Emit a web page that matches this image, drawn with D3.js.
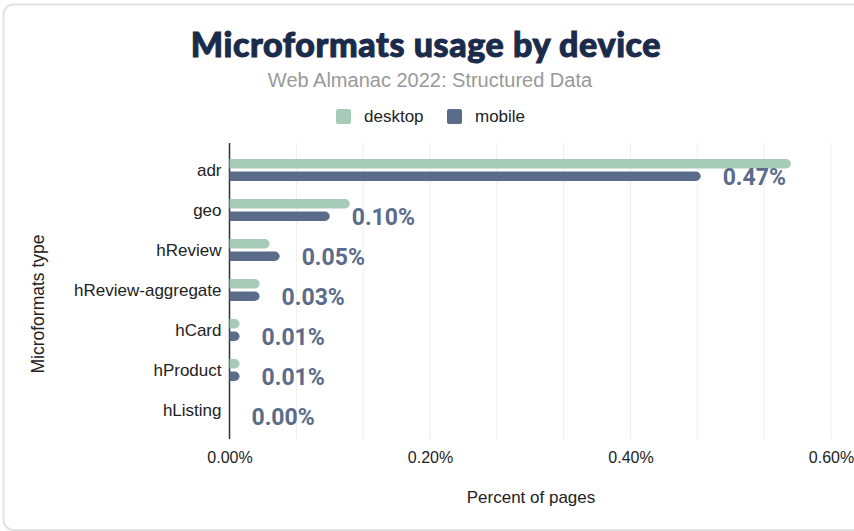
<!DOCTYPE html>
<html><head><meta charset="utf-8">
<script src="https://cdn.jsdelivr.net/npm/d3@7"></script>
<style>
html,body{margin:0;padding:0;background:#fff;}
svg{display:block;}
</style></head>
<body>
<svg id="chart" width="854" height="531"></svg>
<script>
const categories = ["adr","geo","hReview","hReview-aggregate","hCard","hProduct","hListing"];
const desktop = [0.56,0.12,0.04,0.03,0.01,0.01,0.00];
const mobile  = [0.47,0.10,0.05,0.03,0.01,0.01,0.00];
const seriesNames = ["desktop","mobile"];
const seriesColors = ["#a6cbb9","#5b6c8a"];
const xTicks = [0,0.2,0.4,0.6];

const svg = d3.select("#chart");
const W = 854, H = 531;
const FONT = "Liberation Sans, Arial, sans-serif";

// frame
svg.append("rect").attr("x",3.5).attr("y",4.5).attr("width",W+20).attr("height",H-5.5)
  .attr("rx",10).attr("fill","#fff").attr("stroke","#e2e2e2").attr("stroke-width",2);

const x = d3.scaleLinear().domain([0,0.6]).range([229.5,831]);
const y = d3.scaleBand().domain(categories).range([150,430]);
const plotTop = 143, plotBottom = 439;

// gridlines
const gridVals = d3.range(1,10).map(i=>i*0.6/9);
svg.append("g").selectAll("line").data(gridVals).join("line")
  .attr("x1",d=>x(d)).attr("x2",d=>x(d)).attr("y1",plotTop).attr("y2",plotBottom)
  .attr("stroke","#eeeef2").attr("stroke-width",1);

// x axis
const xAxis = d3.axisBottom(x).tickValues(xTicks).tickSize(0).tickFormat(d=>d3.format(".2f")(d)+"%");
const gx = svg.append("g").attr("transform",`translate(0,${plotBottom})`).call(xAxis);
gx.select(".domain").remove();
gx.selectAll("text").attr("dy",0).attr("y",24).attr("font-family",FONT)
  .attr("font-size",16).attr("fill","#222");

// y axis
const yAxis = d3.axisLeft(y).tickSize(0).tickPadding(8);
const gy = svg.append("g").attr("transform",`translate(${x(0)},0)`).call(yAxis);
gy.select(".domain").remove();
gy.selectAll("text").attr("font-family",FONT)
  .attr("font-size",17).attr("fill","#222").attr("dy","0.35em");
svg.append("line").attr("x1",x(0)).attr("x2",x(0)).attr("y1",plotTop).attr("y2",plotBottom)
  .attr("stroke","#333").attr("stroke-width",1.5);

// bars
const barH = 9.5, gap = 3;
const rows = categories.map((c,i)=>({c, vals:[desktop[i],mobile[i]]}));
const g = svg.append("g");
rows.forEach(r=>{
  const cy = y(r.c) + y.bandwidth()/2;
  r.vals.forEach((v,j)=>{
    const w = x(v)-x(0);
    if (w <= 0) return;
    const top = j===0 ? cy - gap/2 - barH : cy + gap/2;
    const r0 = Math.min(barH/2, w);
    const x0 = x(0), x1 = x(v);
    g.append("path")
      .attr("d",`M${x0},${top}H${x1-r0}A${r0},${barH/2} 0 0 1 ${x1},${top+barH/2}A${r0},${barH/2} 0 0 1 ${x1-r0},${top+barH}H${x0}Z`)
      .attr("fill",seriesColors[j]);
  });
  const mv = r.vals[1];
  svg.append("text").attr("x",x(mv)+22).attr("y",cy + gap/2 + barH/2)
    .attr("dy","0.36em").attr("font-family","Roboto, sans-serif").attr("font-weight",700)
    .attr("font-size",23).attr("fill","#5b6c8a").text(d3.format(".2f")(mv)+"%");
});

// titles
svg.append("text").attr("x",426).attr("y",57).attr("text-anchor","middle")
  .attr("font-family","Lato, sans-serif").attr("font-weight",900).attr("font-size",34)
  .attr("letter-spacing",0.6).attr("stroke","#1a2b4b").attr("stroke-width",1)
  .attr("fill","#1a2b4b").text("Microformats usage by device");
svg.append("text").attr("x",430).attr("y",87).attr("text-anchor","middle")
  .attr("font-family",FONT).attr("font-size",20)
  .attr("fill","#999").text("Web Almanac 2022: Structured Data");

// legend
const legX = [336,447];
seriesNames.forEach((n,i)=>{
  svg.append("rect").attr("x",legX[i]).attr("y",109).attr("width",15).attr("height",15).attr("rx",2)
    .attr("fill",seriesColors[i]);
  svg.append("text").attr("x",legX[i]+28).attr("y",116.5).attr("dy","0.35em")
    .attr("font-family",FONT).attr("font-size",17).attr("fill","#222").text(n);
});

// axis titles
svg.append("text").attr("x",531).attr("y",503).attr("text-anchor","middle")
  .attr("font-family",FONT).attr("font-size",17).attr("fill","#222")
  .text("Percent of pages");
svg.append("text").attr("transform","translate(44,304) rotate(-90)").attr("text-anchor","middle")
  .attr("font-family",FONT).attr("font-size",17.5).attr("fill","#222")
  .text("Microformats type");
</script>
</body></html>
